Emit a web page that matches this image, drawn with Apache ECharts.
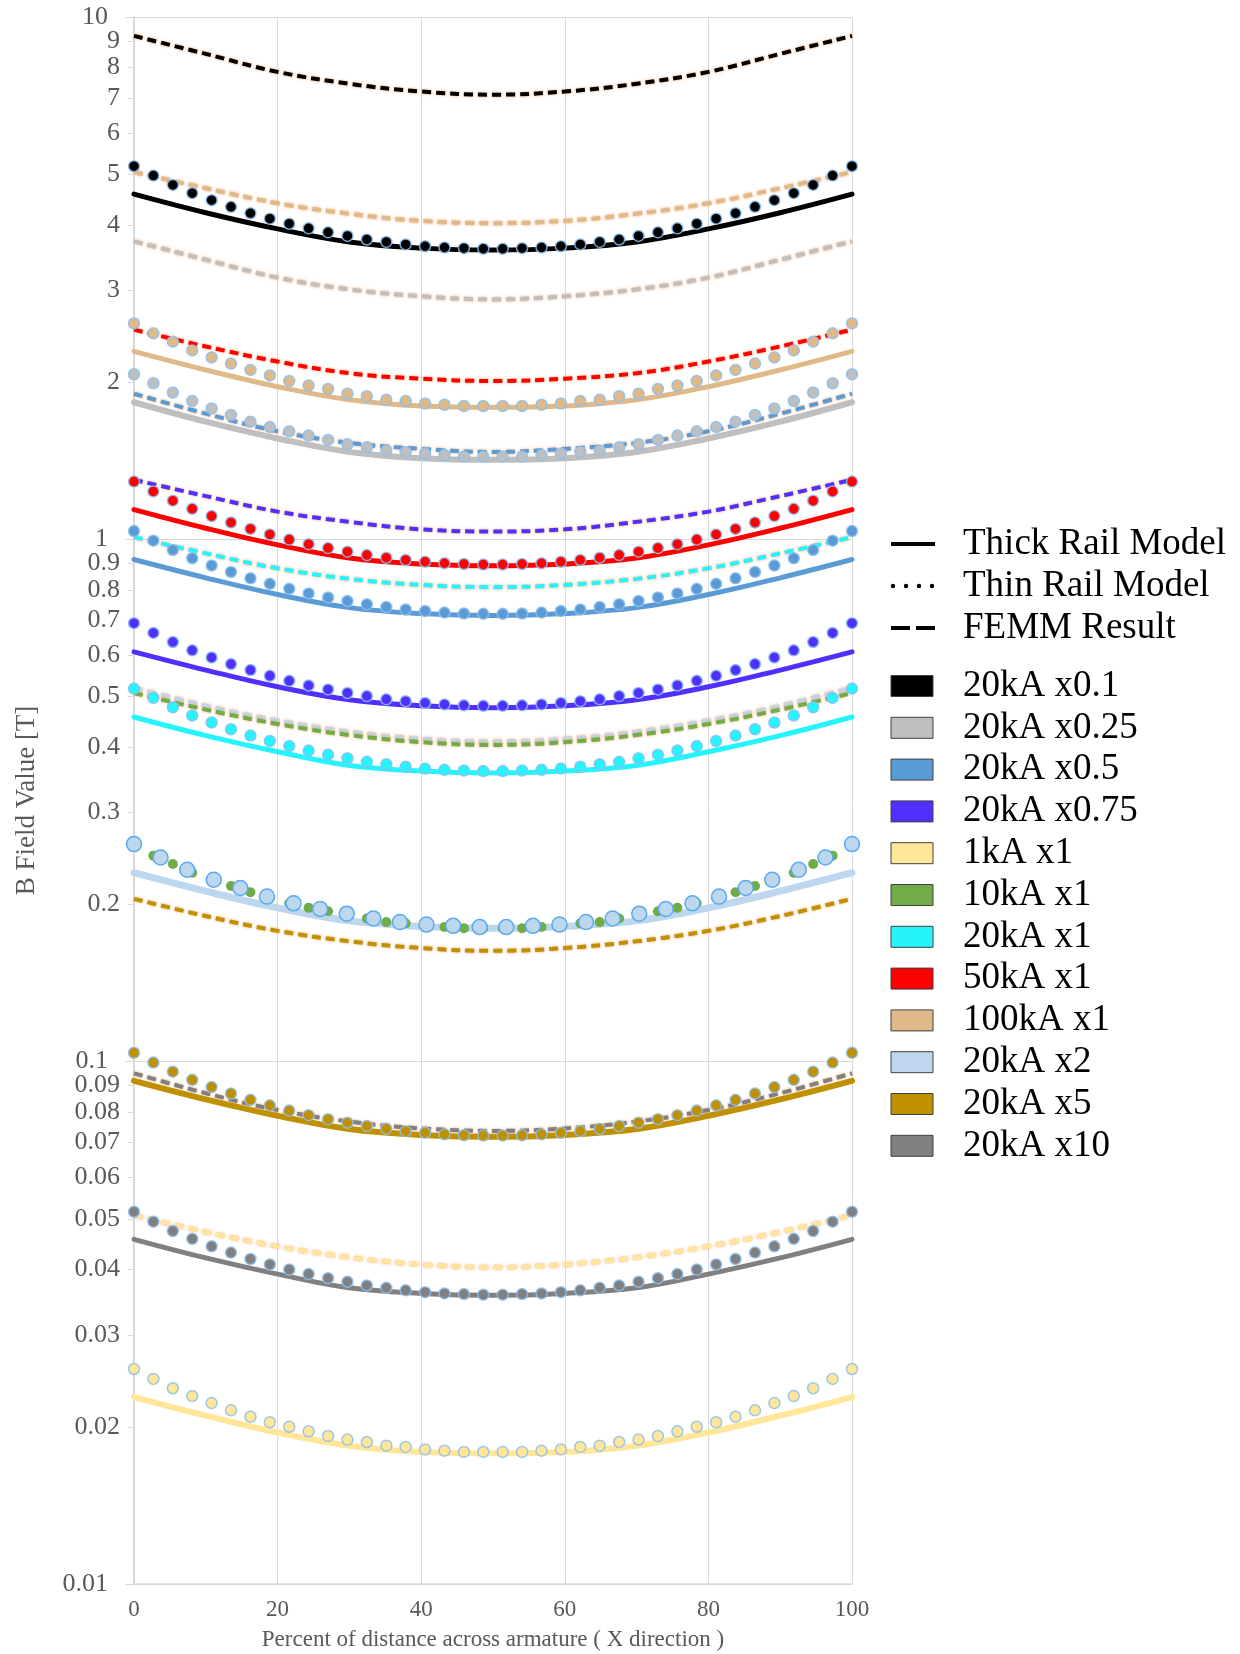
<!DOCTYPE html>
<html>
<head>
<meta charset="utf-8">
<script src="https://cdn.jsdelivr.net/npm/echarts@6/dist/echarts.min.js"></script>
<style>
html,body{margin:0;padding:0;background:#fff;}
#chart{width:1240px;height:1654px;}
</style>
</head>
<body>
<div id="chart"></div>
<script>
// ---------- x positions ----------
const xThin = [0, 2.70, 5.41, 8.11, 10.81, 13.51, 16.22, 18.92, 21.62, 24.32, 27.03, 29.73, 32.43, 35.14, 37.84, 40.54, 43.24, 45.95, 48.65, 51.35, 54.05, 56.76, 59.46, 62.16, 64.86, 67.57, 70.27, 72.97, 75.68, 78.38, 81.08, 83.78, 86.49, 89.19, 91.89, 94.59, 97.30, 100];
const xThinWide = [0, 3.70, 7.41, 11.11, 14.81, 18.52, 22.22, 25.93, 29.63, 33.33, 37.04, 40.74, 44.44, 48.15, 51.85, 55.56, 59.26, 62.96, 66.67, 70.37, 74.07, 77.78, 81.48, 85.19, 88.89, 92.59, 96.30, 100];
const xLine = [0, 10, 20, 30, 40, 50, 60, 70, 80, 90, 100];

// ---------- axis ticks ----------
const yDecadeTicks = [0.01, 0.1, 1, 10];
const yMinorTicks = [0.02, 0.03, 0.04, 0.05, 0.06, 0.07, 0.08, 0.09, 0.2, 0.3, 0.4, 0.5, 0.6, 0.7, 0.8, 0.9, 2, 3, 4, 5, 6, 7, 8, 9];

// ---------- legend ----------
const modelNames = ['Thick Rail Model', 'Thin Rail Model', 'FEMM Result'];
const caseNames = ['20kA x0.1', '20kA x0.25', '20kA x0.5', '20kA x0.75', '1kA x1', '10kA x1', '20kA x1', '50kA x1', '100kA x1', '20kA x2', '20kA x5', '20kA x10'];
const caseColors = ['#000000', '#bfbfbf', '#5b9bd5', '#5030ff', '#ffe699', '#70ad47', '#25f4fc', '#ff0000', '#e0b988', '#bdd7ee', '#bf9000', '#808080'];

// ---------- Thin rail model (markers) ----------
const thin_20kA_x0_1 = [5.18, 4.97, 4.77, 4.60, 4.46, 4.33, 4.21, 4.11, 4.02, 3.94, 3.87, 3.81, 3.75, 3.71, 3.67, 3.64, 3.62, 3.61, 3.60, 3.60, 3.61, 3.62, 3.64, 3.67, 3.71, 3.75, 3.81, 3.87, 3.94, 4.02, 4.11, 4.21, 4.33, 4.46, 4.60, 4.77, 4.97, 5.18];
const thin_100kA_x1 = [2.59, 2.48, 2.39, 2.30, 2.23, 2.17, 2.11, 2.06, 2.01, 1.97, 1.94, 1.90, 1.88, 1.85, 1.84, 1.82, 1.81, 1.80, 1.80, 1.80, 1.80, 1.81, 1.82, 1.84, 1.85, 1.88, 1.90, 1.94, 1.97, 2.01, 2.06, 2.11, 2.17, 2.23, 2.30, 2.39, 2.48, 2.59];
const thin_20kA_x0_25 = [2.07, 1.99, 1.91, 1.84, 1.78, 1.73, 1.68, 1.64, 1.61, 1.58, 1.55, 1.52, 1.50, 1.48, 1.47, 1.46, 1.45, 1.44, 1.44, 1.44, 1.44, 1.45, 1.46, 1.47, 1.48, 1.50, 1.52, 1.55, 1.58, 1.61, 1.64, 1.68, 1.73, 1.78, 1.84, 1.91, 1.99, 2.07];
const thin_50kA_x1 = [1.29, 1.235, 1.186, 1.144, 1.108, 1.077, 1.047, 1.022, 0.999, 0.979, 0.962, 0.947, 0.933, 0.922, 0.913, 0.906, 0.900, 0.897, 0.895, 0.895, 0.897, 0.900, 0.906, 0.913, 0.922, 0.933, 0.947, 0.962, 0.979, 0.999, 1.022, 1.047, 1.077, 1.108, 1.144, 1.186, 1.235, 1.29];
const thin_20kA_x0_5 = [1.037, 0.994, 0.954, 0.920, 0.891, 0.866, 0.842, 0.822, 0.804, 0.788, 0.774, 0.762, 0.751, 0.742, 0.734, 0.729, 0.724, 0.721, 0.720, 0.720, 0.721, 0.724, 0.729, 0.734, 0.742, 0.751, 0.762, 0.774, 0.788, 0.804, 0.822, 0.842, 0.866, 0.891, 0.920, 0.954, 0.994, 1.037];
const thin_20kA_x0_75 = [0.691, 0.662, 0.636, 0.613, 0.594, 0.577, 0.562, 0.548, 0.536, 0.525, 0.516, 0.508, 0.501, 0.494, 0.490, 0.486, 0.483, 0.481, 0.480, 0.480, 0.481, 0.483, 0.486, 0.490, 0.494, 0.501, 0.508, 0.516, 0.525, 0.536, 0.548, 0.562, 0.577, 0.594, 0.613, 0.636, 0.662, 0.691];
const thin_20kA_x1 = [0.518, 0.497, 0.477, 0.460, 0.446, 0.433, 0.421, 0.411, 0.402, 0.394, 0.387, 0.381, 0.375, 0.371, 0.367, 0.364, 0.362, 0.361, 0.360, 0.360, 0.361, 0.362, 0.364, 0.367, 0.371, 0.375, 0.381, 0.387, 0.394, 0.402, 0.411, 0.421, 0.433, 0.446, 0.460, 0.477, 0.497, 0.518];
const thin_10kA_x1 = [0.259, 0.248, 0.239, 0.230, 0.223, 0.217, 0.211, 0.206, 0.201, 0.197, 0.194, 0.190, 0.188, 0.185, 0.184, 0.182, 0.181, 0.180, 0.180, 0.180, 0.180, 0.181, 0.182, 0.184, 0.185, 0.188, 0.190, 0.194, 0.197, 0.201, 0.206, 0.211, 0.217, 0.223, 0.230, 0.239, 0.248, 0.259];
const thin_20kA_x2 = [0.261, 0.246, 0.233, 0.223, 0.215, 0.207, 0.201, 0.196, 0.192, 0.188, 0.185, 0.183, 0.182, 0.181, 0.181, 0.182, 0.183, 0.185, 0.188, 0.192, 0.196, 0.201, 0.207, 0.215, 0.223, 0.233, 0.246, 0.261];
const thin_20kA_x5 = [0.104, 0.0996, 0.0957, 0.0923, 0.0894, 0.0869, 0.0845, 0.0825, 0.0806, 0.0790, 0.0776, 0.0764, 0.0753, 0.0744, 0.0736, 0.0731, 0.0726, 0.0723, 0.0722, 0.0722, 0.0723, 0.0726, 0.0731, 0.0736, 0.0744, 0.0753, 0.0764, 0.0776, 0.0790, 0.0806, 0.0825, 0.0845, 0.0869, 0.0894, 0.0923, 0.0957, 0.0996, 0.104];
const thin_20kA_x10 = [0.0516, 0.0494, 0.0474, 0.0458, 0.0443, 0.0431, 0.0419, 0.0409, 0.0400, 0.0392, 0.0385, 0.0379, 0.0373, 0.0369, 0.0365, 0.0362, 0.0360, 0.0359, 0.0358, 0.0358, 0.0359, 0.0360, 0.0362, 0.0365, 0.0369, 0.0373, 0.0379, 0.0385, 0.0392, 0.0400, 0.0409, 0.0419, 0.0431, 0.0443, 0.0458, 0.0474, 0.0494, 0.0516];
const thin_1kA_x1 = [0.0258, 0.0247, 0.0237, 0.0229, 0.0222, 0.0215, 0.0209, 0.0204, 0.0200, 0.0196, 0.0192, 0.0189, 0.0187, 0.0184, 0.0183, 0.0181, 0.0180, 0.0179, 0.0179, 0.0179, 0.0179, 0.0180, 0.0181, 0.0183, 0.0184, 0.0187, 0.0189, 0.0192, 0.0196, 0.0200, 0.0204, 0.0209, 0.0215, 0.0222, 0.0229, 0.0237, 0.0247, 0.0258];

// ---------- Thick rail model (solid) ----------
const thick_20kA_x0_1 = [4.58, 4.22, 3.93, 3.71, 3.61, 3.58, 3.61, 3.71, 3.93, 4.22, 4.58];
const thick_100kA_x1 = [2.29, 2.11, 1.96, 1.85, 1.80, 1.79, 1.80, 1.85, 1.96, 2.11, 2.29];
const thick_20kA_x0_25 = [1.83, 1.68, 1.56, 1.47, 1.43, 1.42, 1.43, 1.47, 1.56, 1.68, 1.83];
const thick_50kA_x1 = [1.14, 1.05, 0.976, 0.921, 0.897, 0.89, 0.897, 0.921, 0.976, 1.05, 1.14];
const thick_20kA_x0_5 = [0.915, 0.844, 0.784, 0.740, 0.721, 0.715, 0.721, 0.740, 0.784, 0.844, 0.915];
const thick_20kA_x0_75 = [0.609, 0.562, 0.522, 0.493, 0.480, 0.476, 0.480, 0.493, 0.522, 0.562, 0.609];
const thick_20kA_x1 = [0.457, 0.421, 0.392, 0.369, 0.360, 0.357, 0.360, 0.369, 0.392, 0.421, 0.457];
const thick_20kA_x2 = [0.230, 0.212, 0.197, 0.186, 0.1815, 0.180, 0.1815, 0.186, 0.197, 0.212, 0.230];
const thick_20kA_x5 = [0.0919, 0.0847, 0.0788, 0.0743, 0.0724, 0.0718, 0.0724, 0.0743, 0.0788, 0.0847, 0.0919];
const thick_20kA_x10 = [0.0457, 0.0421, 0.0392, 0.0369, 0.0360, 0.0357, 0.0360, 0.0369, 0.0392, 0.0421, 0.0457];
const thick_1kA_x1 = [0.0228, 0.0210, 0.0195, 0.0184, 0.0179, 0.0178, 0.0179, 0.0184, 0.0195, 0.0210, 0.0228];

// ---------- FEMM result (dashed) ----------
const femm_20kA_x0_1 = [9.2, 8.5, 7.85, 7.45, 7.2, 7.1, 7.2, 7.45, 7.85, 8.5, 9.2];
const femm_100kA_x1 = [5.05, 4.7, 4.4, 4.2, 4.07, 4.03, 4.07, 4.2, 4.4, 4.7, 5.05];
const femm_20kA_x0_25 = [3.72, 3.43, 3.17, 3.01, 2.92, 2.88, 2.92, 3.01, 3.17, 3.43, 3.72];
const femm_50kA_x1 = [2.52, 2.34, 2.19, 2.08, 2.03, 2.01, 2.03, 2.08, 2.19, 2.34, 2.52];
const femm_20kA_x0_5 = [1.90, 1.74, 1.61, 1.53, 1.49, 1.47, 1.49, 1.53, 1.61, 1.74, 1.90];
const femm_20kA_x0_75 = [1.30, 1.21, 1.13, 1.08, 1.045, 1.035, 1.045, 1.08, 1.13, 1.21, 1.30];
const femm_20kA_x1 = [1.01, 0.94, 0.88, 0.84, 0.818, 0.81, 0.818, 0.84, 0.88, 0.94, 1.01];
const femm_20kA_x2 = [0.52, 0.48, 0.45, 0.428, 0.415, 0.41, 0.415, 0.428, 0.45, 0.48, 0.52];
const femm_10kA_x1 = [0.508, 0.472, 0.443, 0.422, 0.409, 0.404, 0.409, 0.422, 0.443, 0.472, 0.508];
const femm_20kA_x5 = [0.205, 0.19, 0.178, 0.17, 0.165, 0.163, 0.165, 0.17, 0.178, 0.19, 0.205];
const femm_20kA_x10 = [0.095, 0.087, 0.0808, 0.0768, 0.0745, 0.0737, 0.0745, 0.0768, 0.0808, 0.087, 0.095];
const femm_1kA_x1 = [0.0508, 0.0472, 0.0443, 0.0422, 0.0409, 0.0404, 0.0409, 0.0422, 0.0443, 0.0472, 0.0508];

// ---------- build ----------
const C = {};
caseNames.forEach((n, i) => { C[n] = caseColors[i]; });
const FONT = "'Liberation Serif', 'Times New Roman', serif";
const pairs = (xs, ys) => xs.map((x, i) => [x, ys[i]]);

function solid(name, ys, width) {
  return { type: 'line', name: name + ' thick', data: pairs(xLine, ys), smooth: 0.4, showSymbol: false, symbol: 'none',
    lineStyle: { color: C[name], width: width || 5, cap: 'round', join: 'round' }, z: 2 };
}
function dashed(name, ys) {
  return { type: 'line', name: name + ' femm', data: pairs(xLine, ys), smooth: 0.4, showSymbol: false, symbol: 'none',
    lineStyle: { color: C[name], width: 4, type: [9, 5], shadowColor: 'rgba(242,160,100,1)', shadowBlur: 3 }, z: 3 };
}
function dots(name, xs, ys, size, border) {
  return { type: 'line', name: name + ' thin', data: pairs(xs, ys), symbol: 'circle', symbolSize: size || 11, showSymbol: true,
    lineStyle: { opacity: 0, width: 0 },
    itemStyle: { color: C[name], borderColor: border || 'rgba(140,190,240,0.85)', borderWidth: border === 'none' ? 0 : 1.5 }, z: 4 };
}

const series = [
  solid('20kA x0.1', thick_20kA_x0_1),
  solid('100kA x1', thick_100kA_x1),
  solid('20kA x0.25', thick_20kA_x0_25, 6),
  solid('50kA x1', thick_50kA_x1),
  solid('20kA x0.5', thick_20kA_x0_5),
  solid('20kA x0.75', thick_20kA_x0_75),
  solid('20kA x1', thick_20kA_x1),
  solid('20kA x2', thick_20kA_x2, 7),
  solid('20kA x5', thick_20kA_x5, 6),
  solid('20kA x10', thick_20kA_x10),
  solid('1kA x1', thick_1kA_x1, 6),
  dashed('20kA x0.1', femm_20kA_x0_1),
  dashed('100kA x1', femm_100kA_x1),
  dashed('20kA x0.25', femm_20kA_x0_25),
  dashed('50kA x1', femm_50kA_x1),
  dashed('20kA x0.5', femm_20kA_x0_5),
  dashed('20kA x0.75', femm_20kA_x0_75),
  dashed('20kA x1', femm_20kA_x1),
  dashed('20kA x2', femm_20kA_x2),
  dashed('10kA x1', femm_10kA_x1),
  dashed('20kA x5', femm_20kA_x5),
  dashed('20kA x10', femm_20kA_x10),
  dashed('1kA x1', femm_1kA_x1),
  dots('20kA x0.1', xThin, thin_20kA_x0_1),
  dots('100kA x1', xThin, thin_100kA_x1),
  dots('20kA x0.25', xThin, thin_20kA_x0_25),
  dots('50kA x1', xThin, thin_50kA_x1),
  dots('20kA x0.5', xThin, thin_20kA_x0_5),
  dots('20kA x0.75', xThin, thin_20kA_x0_75),
  dots('20kA x1', xThin, thin_20kA_x1),
  dots('10kA x1', xThin, thin_10kA_x1, 10, 'none'),
  dots('20kA x2', xThinWide, thin_20kA_x2, 15, '#5aaaf0'),
  dots('20kA x5', xThin, thin_20kA_x5),
  dots('20kA x10', xThin, thin_20kA_x10),
  dots('1kA x1', xThin, thin_1kA_x1)
];

// ---------- legend graphics ----------
const graphics = [];
const LX = 891, TX = 963;
const modelY = [544, 586, 628];
modelNames.forEach((n, i) => {
  const y = modelY[i];
  if (i === 0) graphics.push({ type: 'line', shape: { x1: LX, y1: y, x2: LX + 44, y2: y }, style: { stroke: '#000', lineWidth: 4 } });
  if (i === 1) [0, 1, 2, 3].forEach(k => graphics.push({ type: 'circle', shape: { cx: LX + 2 + k * 13, cy: y, r: 2.2 }, style: { fill: '#000' } }));
  if (i === 2) graphics.push({ type: 'line', shape: { x1: LX, y1: y, x2: LX + 44, y2: y }, style: { stroke: '#000', lineWidth: 4, lineDash: [19, 6] } });
  graphics.push({ type: 'text', x: TX, y: y, style: { text: n, font: '37px ' + FONT, fill: '#000', textVerticalAlign: 'middle' } });
});
caseNames.forEach((n, i) => {
  const y = 686 + i * 41.8;
  graphics.push({ type: 'rect', shape: { x: LX, y: y - 10.5, width: 42, height: 21 }, style: { fill: caseColors[i], stroke: '#404040', lineWidth: 1 } });
  graphics.push({ type: 'text', x: TX, y: y, style: { text: n, font: '37px ' + FONT, fill: '#000', textVerticalAlign: 'middle' } });
});

const fmt = v => String(+(+v).toPrecision(3));

const option = {
  animation: false,
  backgroundColor: '#fff',
  grid: { left: 134, right: 388, top: 17, bottom: 70, containLabel: false, outerBoundsMode: 'none' },
  xAxis: {
    type: 'value', min: 0, max: 100, interval: 20,
    name: 'Percent of distance across armature ( X direction )', nameLocation: 'middle', nameGap: 44,
    nameTextStyle: { fontFamily: FONT, fontSize: 23, color: '#595959' },
    axisLine: { show: true, lineStyle: { color: '#d9d9d9', width: 1.5 } },
    axisTick: { show: false },
    axisLabel: { fontFamily: FONT, fontSize: 23, color: '#595959', margin: 14 },
    splitLine: { show: true, lineStyle: { color: '#d9d9d9', width: 1 } }
  },
  yAxis: [
    {
      type: 'log', logBase: 10, min: 0.01, max: 10,
      name: 'B Field Value [T]', nameLocation: 'middle', nameRotate: 90, nameGap: 94,
      nameTextStyle: { fontFamily: FONT, fontSize: 27, color: '#595959' },
      axisLine: { show: true, lineStyle: { color: '#d9d9d9', width: 2 } },
      axisTick: { show: true, length: 9, lineStyle: { color: '#d9d9d9' }, customValues: yDecadeTicks },
      axisLabel: { fontFamily: FONT, fontSize: 26, color: '#595959', margin: 26, formatter: fmt, customValues: yDecadeTicks,
        hideOverlap: false, showMinLabel: true, showMaxLabel: true },
      splitLine: { show: true, lineStyle: { color: '#d9d9d9', width: 1 } }
    },
    {
      type: 'log', logBase: 10, min: 0.01, max: 10, position: 'left',
      axisLine: { show: false },
      axisTick: { show: true, length: 6, lineStyle: { color: '#d9d9d9' }, customValues: yMinorTicks },
      axisLabel: { fontFamily: FONT, fontSize: 26, color: '#595959', margin: 14, formatter: fmt, customValues: yMinorTicks,
        hideOverlap: false, showMinLabel: true, showMaxLabel: true },
      splitLine: { show: false }
    }
  ],
  graphic: graphics,
  series: series
};

const chart = echarts.init(document.getElementById('chart'), null, { renderer: 'canvas' });
chart.setOption(option);
</script>
</body>
</html>
